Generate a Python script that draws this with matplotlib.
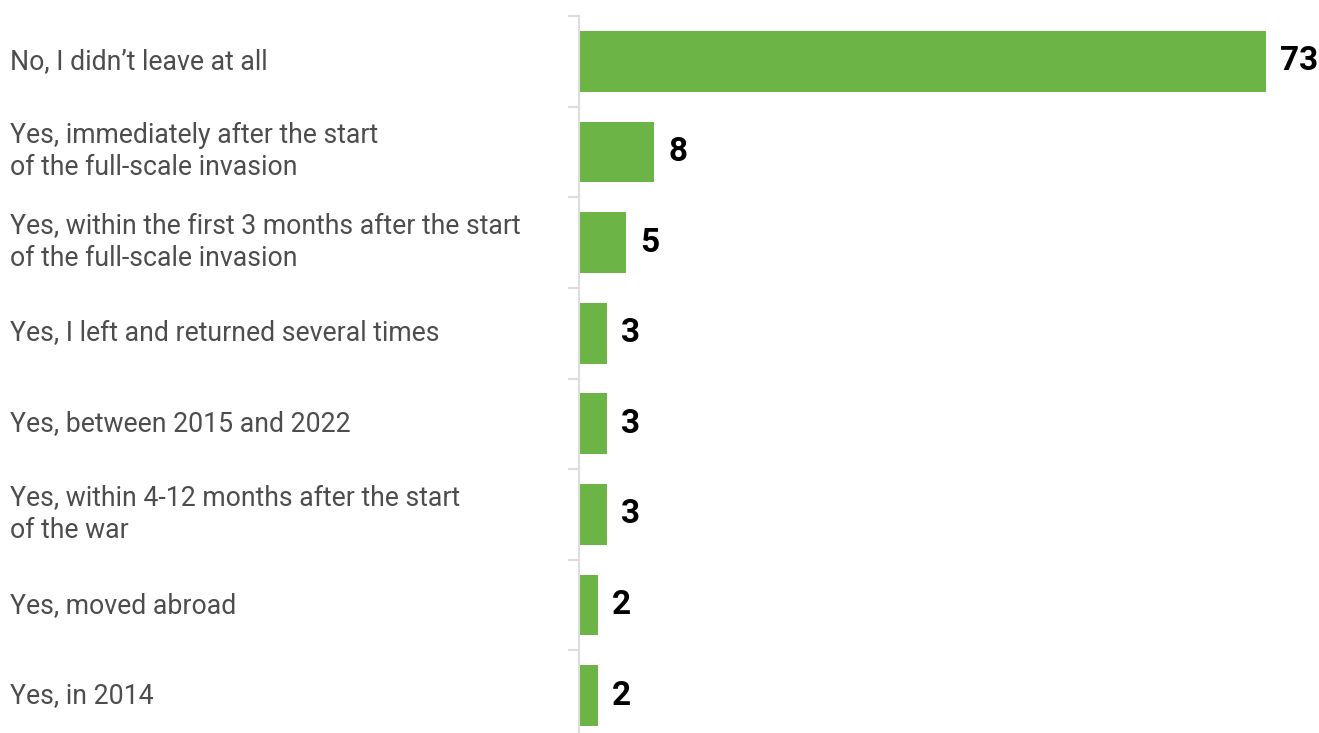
import matplotlib.pyplot as plt
import matplotlib.transforms as mtransforms

# Survey answers and shares (%)
categories = [
    "No, I didn\u2019t leave at all",
    "Yes, immediately after the start\nof the full-scale invasion",
    "Yes, within the first 3 months after the start\nof the full-scale invasion",
    "Yes, I left and returned several times",
    "Yes, between 2015 and 2022",
    "Yes, within 4-12 months after the start\nof the war",
    "Yes, moved abroad",
    "Yes, in 2014",
]
values = [73, 8, 5, 3, 3, 3, 2, 2]

bar_color = "#6cb446"
label_color = "#4d4d4d"

plt.rcParams['font.family'] = ['Roboto', 'DejaVu Sans']

W, H = 1319, 733
fig = plt.figure(figsize=(W / 100, H / 100), dpi=100)

# axes: left edge at the spine, top at first tick, bottom runs past the figure edge
left, top, bottom = 579, 16, 741
ax = fig.add_axes([left / W, 1 - bottom / H, 1 - left / W, (bottom - top) / H])

n = len(categories)
pos = list(range(n))
ax.barh(pos, values, height=0.67, color=bar_color, zorder=2)
ax.set_ylim(n - 0.5, -0.5)
ax.set_xlim(0, (W - left) / ((1266 - left) / 73))

# value labels
for p, v in zip(pos, values):
    ax.text(v + 1.5, p, str(v), va='center', ha='left', fontsize=24,
            fontweight='bold', color='black')

# category labels aligned to the figure's left edge
trans = mtransforms.blended_transform_factory(fig.transFigure, ax.transData)
for p, c in zip(pos, categories):
    ax.text(10 / W, p, c, transform=trans, va='center', ha='left',
            fontsize=19.2, color=label_color, linespacing=1.24)

# spine and boundary ticks
for s in ['top', 'right', 'bottom']:
    ax.spines[s].set_visible(False)
ax.spines['left'].set_color('#dddddd')
ax.spines['left'].set_linewidth(1.5)
ax.set_yticks([i - 0.5 for i in range(n + 1)])
ax.set_yticklabels([])
ax.tick_params(axis='y', length=8, width=1.5, color='#dddddd')
ax.set_xticks([])

fig.savefig('out.png', dpi=100, facecolor='white')
